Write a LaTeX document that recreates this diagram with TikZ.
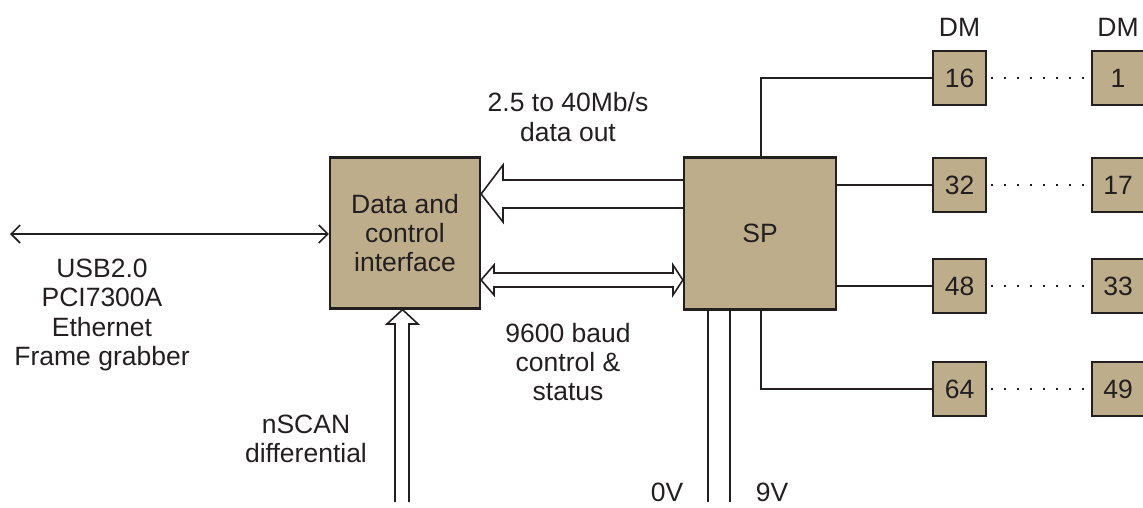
\documentclass[tikz,border=0pt]{standalone}
\usepackage{fontspec}
\setmainfont{Liberation Sans}
\usetikzlibrary{arrows.meta,calc}
\definecolor{boxfill}{RGB}{189,173,139}
\definecolor{ink}{RGB}{35,31,32}
\begin{document}
\begin{tikzpicture}[x=1pt,y=-1pt,
  every node/.style={font=\fontsize{26.5}{29.3}\selectfont, text=ink},
  bigbox/.style={draw=ink, line width=2.2pt, fill=boxfill, inner sep=0pt, align=center},
  dmbox/.style={draw=ink, line width=2pt, fill=boxfill, inner sep=0pt, minimum width=53pt, minimum height=54pt},
  conn/.style={draw=ink, line width=1.6pt},
  hollow/.style={draw=ink, line width=1.6pt, fill=white, line join=miter},
  lbl/.style={align=center, inner sep=0pt},
  dots/.style={draw=ink, line width=1.8pt, dash pattern=on 2pt off 11pt}
]
\useasboundingbox (0,0) rectangle (1143,508);

% main boxes
\node[bigbox, minimum width=150pt, minimum height=151pt] (dci) at (405,233) {Data and\\control\\interface};
\node[bigbox, minimum width=152pt, minimum height=152pt] (sp) at (760,233.5) {SP};

% DM boxes
\node[dmbox] (d16) at (959.5,78) {16};
\node[dmbox] (d1) at (1118,78) {1};
\node[dmbox] (d32) at (959.5,185) {32};
\node[dmbox] (d17) at (1118,185) {17};
\node[dmbox] (d48) at (959.5,286) {48};
\node[dmbox] (d33) at (1118,286) {33};
\node[dmbox] (d64) at (959.5,389) {64};
\node[dmbox] (d49) at (1118,389) {49};

\node[lbl] (dmA) at (959.5,27) {DM};
\node[lbl] (dmB) at (1118,27) {DM};

% connectors SP -> DM
\draw[conn] (sp.north -| 761,0) |- (d16.west);
\draw[conn] (sp.east |- d32.west) -- (d32.west);
\draw[conn] (sp.east |- d48.west) -- (d48.west);
\draw[conn] (sp.south -| 761,0) |- (d64.west);

% dotted links
\draw[dots] ([xshift=4pt]d16.east) -- (d1.west);
\draw[dots] ([xshift=4pt]d32.east) -- (d17.west);
\draw[dots] ([xshift=4pt]d48.east) -- (d33.west);
\draw[dots] ([xshift=4pt]d64.east) -- (d49.west);

% USB link
\coordinate (usbend) at (10,234);
\draw[conn, {Straight Barb[length=9pt,width=18pt,line width=1.6pt]}-{Straight Barb[length=9pt,width=18pt,line width=1.6pt]}] (usbend) -- (dci.west |- usbend);
\node[lbl] (usb) at (102,315) {USB2.0\\PCI7300A\\Ethernet\\Frame grabber};

% data out hollow arrow
\draw[hollow] (sp.west |- 0,180) -- (503,180) -- (503,165) -- (dci.east |- 0,194) -- (503,222) -- (503,208) -- (sp.west |- 0,208);
\node[lbl] (dout) at (568,117) {2.5 to 40Mb/s\\data out};

% control & status double hollow arrow
\draw[hollow] (494,273) -- (494,265) -- (dci.east |- 0,280) -- (494,295) -- (494,287) -- (673,287) -- (673,295) -- (sp.west |- 0,280) -- (673,265) -- (673,273) -- cycle;
\node[lbl] (ctl) at (568,362) {9600 baud\\control \&\\status};

% nSCAN hollow up arrow
\coordinate (nsb1) at (395,502);
\coordinate (nsb2) at (409,502);
\draw[hollow] (nsb1) -- (395,324) -- (387,324) -- (dci.south -| 402.5,0) -- (418,324) -- (409,324) -- (nsb2);
\node[lbl] (nscan) at (306,439) {nSCAN\\differential};

% power lines
\coordinate (p0) at (708,502);
\coordinate (p9) at (730,502);
\draw[conn] (sp.south -| p0) -- (p0);
\draw[conn] (sp.south -| p9) -- (p9);
\node[lbl] (v0) at (667,492) {0V};
\node[lbl] (v9) at (772,492) {9V};
\end{tikzpicture}
\end{document}
